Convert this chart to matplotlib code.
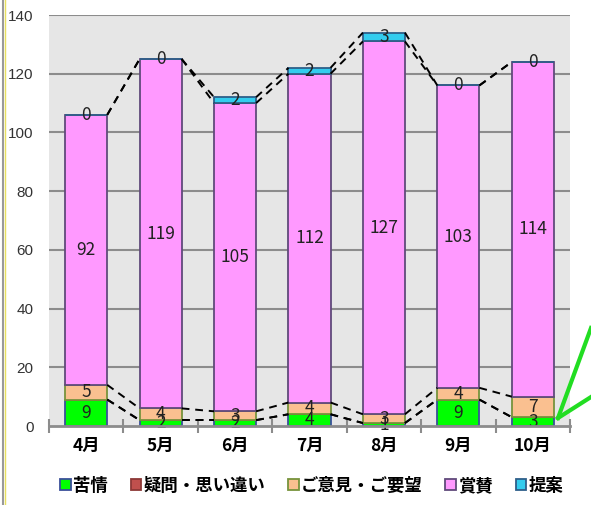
import matplotlib.pyplot as plt
from matplotlib.lines import Line2D
from matplotlib.patches import Patch
import numpy as np

plt.rcParams['font.family'] = ['Noto Sans CJK JP', 'DejaVu Sans']

months = ['4月', '5月', '6月', '7月', '8月', '9月', '10月']
series = ['苦情', '疑問・思い違い', 'ご意見・ご要望', '賞賛', '提案']
kujo = [9, 2, 2, 4, 1, 9, 3]
gimon = [0, 0, 0, 0, 0, 0, 0]
goiken = [5, 4, 3, 4, 3, 4, 7]
shosan = [92, 119, 105, 112, 127, 103, 114]
teian = [0, 0, 2, 2, 3, 0, 0]
yticks = [0, 20, 40, 60, 80, 100, 120, 140]

data = [kujo, gimon, goiken, shosan, teian]
faces = ['#00ff00', '#c0504d', '#fac090', '#ff99ff', '#33ccee']
edges = ['#3a4f9a', '#8c3836', '#77933c', '#604a7b', '#2e5f8a']
show_label = [True, False, True, True, True]

fig = plt.figure(figsize=(5.91, 5.05), dpi=100)
ax = fig.add_axes([49 / 591, 1 - 426 / 505, 521 / 591, 411 / 505])
ax.set_facecolor('#e6e6e6')

x = np.arange(len(months))
w = 0.565
bottom = np.zeros(len(months))
tops = []
for vals, fc, ec, lab in zip(data, faces, edges, show_label):
    vals = np.array(vals, dtype=float)
    ax.bar(x, vals, w, bottom=bottom, color=fc, edgecolor=ec, linewidth=1.3, zorder=3)
    if lab:
        for xi, b, v in zip(x, bottom, vals):
            ax.text(xi, b + v / 2, f'{int(v)}', ha='center', va='center',
                    fontsize=12.5, color='#222222', zorder=5)
    bottom = bottom + vals
    tops.append(bottom.copy())

# series lines between adjacent bars
for t in tops:
    for i in range(len(months) - 1):
        ax.plot([x[i] + w / 2, x[i + 1] - w / 2], [t[i], t[i + 1]],
                color='black', ls=(0, (4, 3)), lw=1.4, zorder=4)

ax.set_xlim(-0.5, len(months) - 0.5)
ax.set_ylim(0, 140)
ax.set_yticks(yticks)
ax.set_yticklabels([str(v) for v in yticks], fontsize=11, color='#333333',
                   family=['Liberation Sans', 'DejaVu Sans'])
ax.tick_params(axis='y', length=0, pad=11)
ax.set_xticks(x)
ax.set_xticklabels(months, fontsize=12.5, fontweight='bold')
ax.tick_params(axis='x', length=0, pad=8)
ax.set_xticks(np.arange(-0.5, len(months)), minor=True)
ax.tick_params(axis='x', which='minor', length=10, width=1.5, color='#8c8c8c', direction='inout')
for yv in yticks[1:]:
    ax.axhline(yv, color='#8c8c8c', lw=1.5, zorder=1)
for s in ['left', 'right', 'top']:
    ax.spines[s].set_visible(False)
ax.spines['bottom'].set_color('#8c8c8c')
ax.spines['bottom'].set_linewidth(2)
ax.spines['bottom'].set_zorder(6)

handles = [Patch(facecolor=fc, edgecolor=ec, linewidth=1.3) for fc, ec in zip(faces, edges)]
fig.legend(handles, series, loc='center', bbox_to_anchor=(312 / 591, 1 - 486 / 505), ncol=5,
           frameon=False, handlelength=0.6, handleheight=0.6,
           handletextpad=0.15, columnspacing=1.3, prop={'weight': 'bold', 'size': 12.5})

# green callout and left window border
for p in [(591, 328), (591, 397)]:
    fig.add_artist(Line2D([558 / 591, p[0] / 591], [1 - 418 / 505, 1 - p[1] / 505],
                          color='#22dd22', lw=3, transform=fig.transFigure))
fig.add_artist(Line2D([3 / 591, 3 / 591], [0, 1], color='#9a9a9a', lw=1.5, transform=fig.transFigure))
fig.add_artist(Line2D([5 / 591, 5 / 591], [0, 1], color='#e8e060', lw=1, transform=fig.transFigure))

fig.savefig('out.png', dpi=100)
